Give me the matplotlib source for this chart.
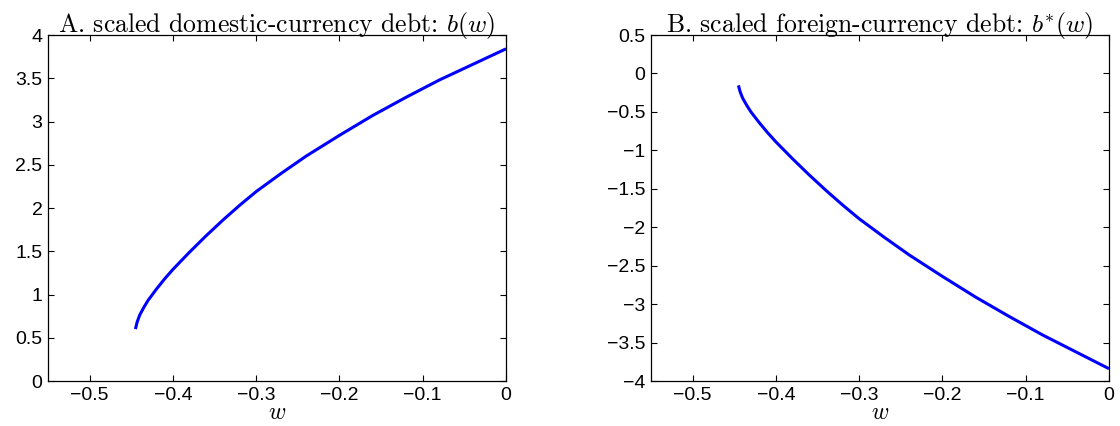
import matplotlib
matplotlib.use("Agg")
import matplotlib.pyplot as plt
import numpy as np

w = [-0.445, -0.443, -0.44, -0.435, -0.43, -0.42, -0.41, -0.40, -0.38, -0.36, -0.34,
     -0.32, -0.30, -0.27, -0.24, -0.20, -0.16, -0.12, -0.08, -0.04, 0.0]
b_dom = [0.60, 0.68, 0.76, 0.85, 0.93, 1.06, 1.18, 1.29, 1.49, 1.68, 1.86,
         2.03, 2.19, 2.40, 2.60, 2.84, 3.07, 3.28, 3.48, 3.66, 3.84]
b_for = [-0.155, -0.237, -0.32, -0.415, -0.50, -0.64, -0.77, -0.89, -1.11, -1.32, -1.52,
         -1.71, -1.89, -2.13, -2.36, -2.64, -2.91, -3.16, -3.40, -3.62, -3.84]

xticks = [-0.5, -0.4, -0.3, -0.2, -0.1, 0]
yticks_a = [0, 0.5, 1, 1.5, 2, 2.5, 3, 3.5, 4]
yticks_b = [-4, -3.5, -3, -2.5, -2, -1.5, -1, -0.5, 0, 0.5]
titles = ["A. scaled domestic-currency debt: $b(w)$",
          "B. scaled foreign-currency debt: $b^{*}(w)$"]

plt.rcParams['mathtext.fontset'] = 'cm'
plt.rcParams['font.family'] = ['Liberation Sans', 'DejaVu Sans']
plt.rcParams['axes.unicode_minus'] = True

fig = plt.figure(figsize=(11.2, 4.26), dpi=100)
axA = fig.add_axes([48/1120, 1-381/426, 458/1120, 346/426])
axB = fig.add_axes([651/1120, 1-381/426, 458/1120, 346/426])

def fmt(v):
    s = ('%g' % v)
    return s.replace('-', '\u2212')

for ax, y, yt, yl, title in [(axA, b_dom, yticks_a, (0, 4), titles[0]),
                             (axB, b_for, yticks_b, (-4, 0.5), titles[1])]:
    ax.plot(w, y, color=(0, 0, 1), lw=2.2, solid_capstyle='butt')
    ax.set_xlim(-0.55, 0)
    ax.set_ylim(*yl)
    ax.set_xticks(xticks)
    ax.set_xticklabels([fmt(v) for v in xticks])
    ax.set_yticks(yt)
    ax.set_yticklabels([fmt(v) for v in yt])
    ax.tick_params(direction='in', length=4, width=0.8, top=True, right=True,
                   labelsize=14, pad=4, colors='black')
    for s in ax.spines.values():
        s.set_linewidth(0.9)
    ax.set_title(title, fontfamily='cmr10', fontsize=18.5, pad=2)
    ax.set_xlabel('$w$', fontsize=17, labelpad=-1)

fig.savefig('out.png', dpi=100)
